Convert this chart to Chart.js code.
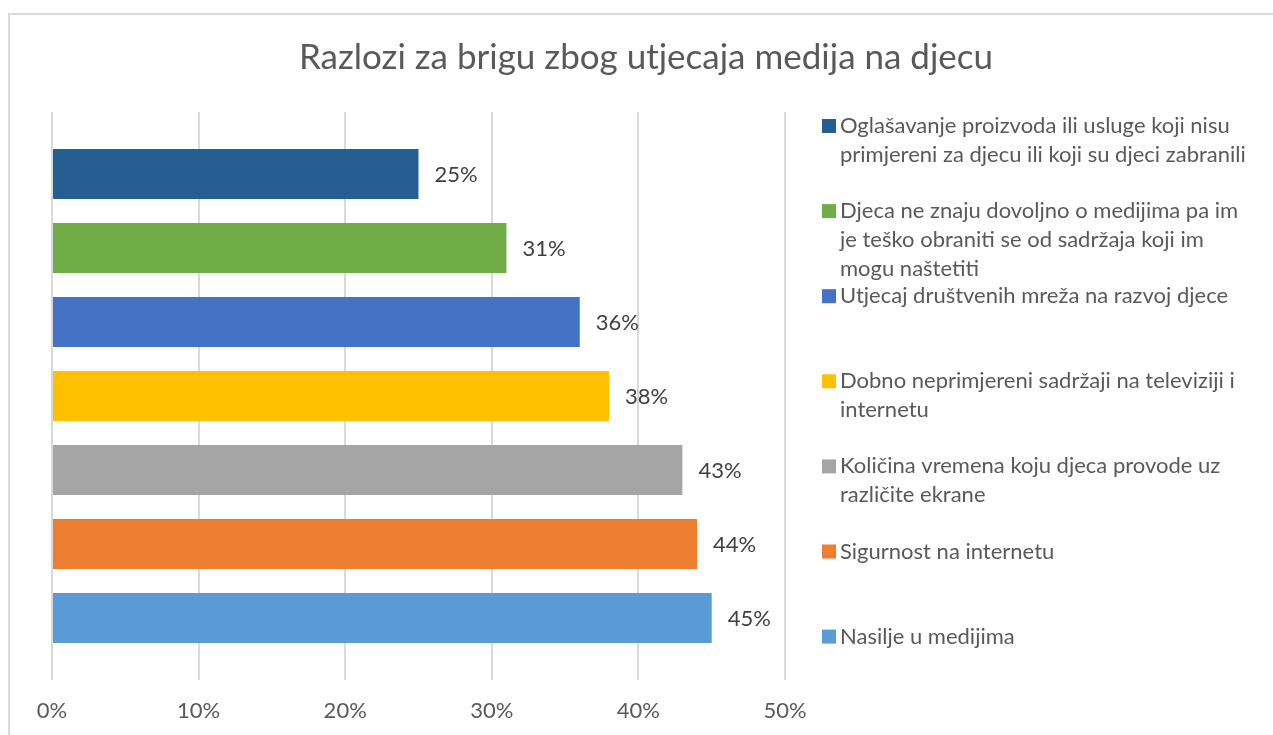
<!DOCTYPE html>
<html>
<head>
<meta charset="utf-8">
<script src="https://cdn.jsdelivr.net/npm/chart.js@4.4.1/dist/chart.umd.min.js"></script>
<style>
  html, body { margin: 0; padding: 0; background: #ffffff; overflow: hidden; }
  #wrap { position: relative; width: 1273px; height: 735px; }
  #frame { position: absolute; left: 8px; top: 13px; width: 1300px; height: 760px;
           border: 2px solid #D9D9D9; box-sizing: border-box; }
  #c { position: absolute; left: 0; top: 0; }
</style>
</head>
<body>
<div id="wrap">
  <div id="frame"></div>
  <canvas id="c" width="1273" height="735"></canvas>
</div>
<script>
// ---- data ----
const chartTitle = 'Razlozi za brigu zbog utjecaja medija na djecu';
const seriesNames = [
  ['Oglašavanje proizvoda ili usluge koji nisu', 'primjereni za djecu ili koji su djeci zabranili'],
  ['Djeca ne znaju dovoljno o medijima pa im', 'je teško obraniti se od sadržaja koji im', 'mogu naštetiti'],
  ['Utjecaj društvenih mreža na razvoj djece'],
  ['Dobno neprimjereni sadržaji na televiziji i', 'internetu'],
  ['Količina vremena koju djeca provode uz', 'različite ekrane'],
  ['Sigurnost na internetu'],
  ['Nasilje u medijima']
];
const seriesValues = [25, 31, 36, 38, 43, 44, 45];
const categories = [''];
const xTickValues = [0, 10, 20, 30, 40, 50];

// ---- styles ----
const seriesColors = ['#255E91', '#70AD47', '#4472C4', '#FFC000', '#A5A5A5', '#ED7D31', '#5B9BD5'];
const FONT = 'Lato, "Open Sans", sans-serif';
const textGray = '#595959';
const labelGray = '#404040';

const datasets = seriesNames.map((name, i) => ({
  label: name.join(' '),
  lines: name,
  data: [seriesValues[i]],
  backgroundColor: seriesColors[i],
  borderWidth: 0,
  categoryPercentage: 0.912,
  barPercentage: 0.676
}));

const decorPlugin = {
  id: 'decor',
  afterDatasetsDraw(chart) {
    const ctx = chart.ctx;
    ctx.save();
    // data labels
    ctx.font = '22px ' + FONT;
    ctx.fillStyle = labelGray;
    ctx.textAlign = 'left';
    ctx.textBaseline = 'alphabetic';
    chart.data.datasets.forEach((ds, i) => {
      const meta = chart.getDatasetMeta(i);
      meta.data.forEach((bar, j) => {
        ctx.fillText(ds.data[j] + '%', bar.x + 16, bar.y + 8);
      });
    });
    // title
    ctx.font = '35px ' + FONT;
    ctx.fillStyle = textGray;
    ctx.textAlign = 'center';
    ctx.fillText(chartTitle, 646, 69);
    // legend
    const lx = 822, box = 14, tx = 840, y0 = 133, step = 85.1, lh = 29;
    ctx.font = '22px ' + FONT;
    ctx.textAlign = 'left';
    chart.data.datasets.forEach((ds, i) => {
      const by = y0 + step * i;
      ctx.fillStyle = ds.backgroundColor;
      ctx.fillRect(lx, by - box, box, box);
      ctx.fillStyle = textGray;
      ds.lines.forEach((ln, k) => ctx.fillText(ln, tx, by + k * lh));
    });
    ctx.restore();
  }
};

new Chart(document.getElementById('c'), {
  type: 'bar',
  data: { labels: categories, datasets },
  options: {
    indexAxis: 'y',
    responsive: false,
    animation: false,
    layout: { padding: { left: 52, right: 488, top: 112, bottom: 0 } },
    plugins: { legend: { display: false }, title: { display: false }, tooltip: { enabled: false } },
    scales: {
      x: {
        min: 0, max: 50,
        afterBuildTicks: (s) => { s.ticks = xTickValues.map(v => ({ value: v })); },
        afterFit: (s) => { s.height = 55; },
        grid: { color: '#D9D9D9', lineWidth: 2, drawTicks: false },
        border: { display: false },
        ticks: { padding: 18, color: textGray, font: { family: FONT, size: 22 },
                 callback: (v) => v + '%' }
      },
      y: { display: false }
    }
  },
  plugins: [decorPlugin]
});
</script>
</body>
</html>
